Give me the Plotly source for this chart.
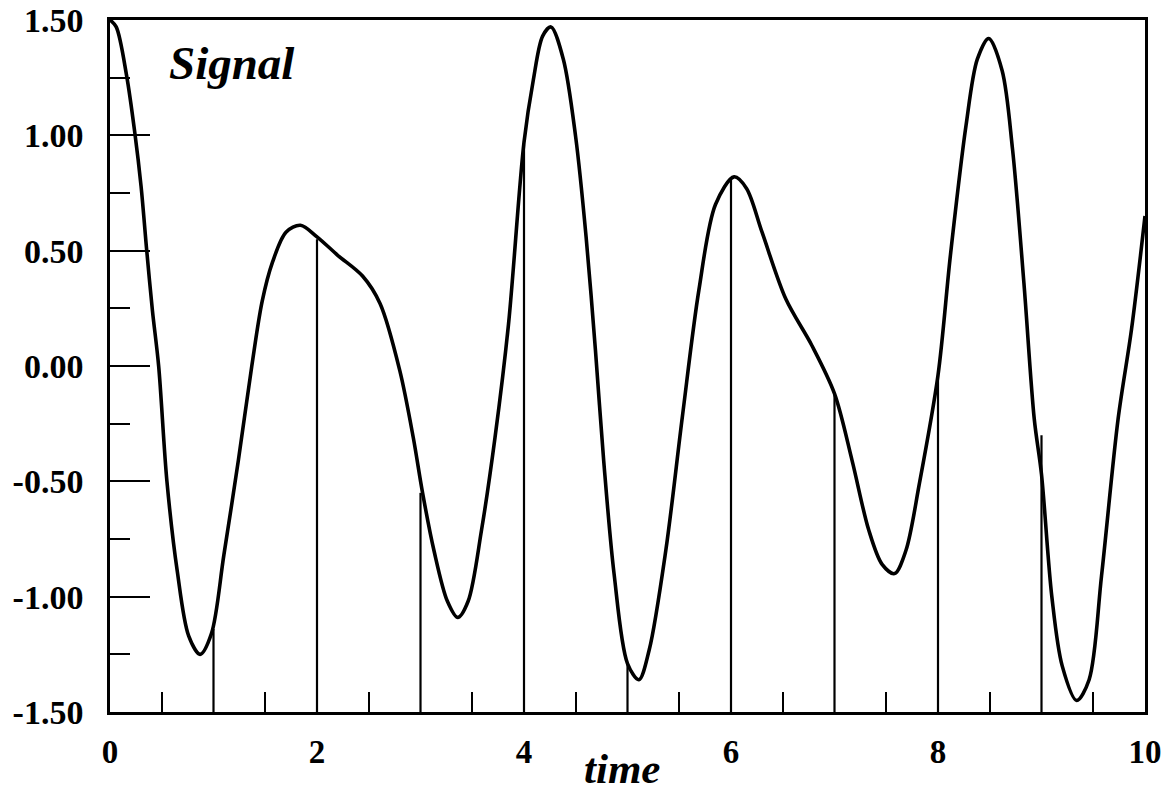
import plotly.graph_objects as go

# ---- data ----
curve_t = [0.00, 0.06, 0.16, 0.24, 0.30, 0.355, 0.41, 0.47, 0.55, 0.65, 0.76, 0.87, 0.98,
           1.10, 1.24, 1.37, 1.47, 1.57, 1.70, 1.84, 2.00, 2.20, 2.44, 2.61, 2.80, 2.93,
           3.02, 3.13, 3.26, 3.36, 3.46, 3.59, 3.72, 3.85, 4.00, 4.09, 4.18, 4.26, 4.38,
           4.50, 4.60, 4.69, 4.77, 4.87, 5.00, 5.11, 5.21, 5.37, 5.53, 5.69, 5.85, 6.03,
           6.15, 6.30, 6.53, 6.78, 7.00, 7.17, 7.33, 7.46, 7.58, 7.69, 7.82, 8.00, 8.12,
           8.27, 8.38, 8.49, 8.62, 8.72, 8.83, 8.93, 9.00, 9.10, 9.20, 9.34, 9.46, 9.58,
           9.74, 9.87, 10.00]
curve_v = [1.50, 1.47, 1.26, 1.01, 0.78, 0.50, 0.24, 0.00, -0.50, -0.89, -1.17, -1.25, -1.16,
           -0.82, -0.41, 0.00, 0.28, 0.45, 0.58, 0.61, 0.56, 0.48, 0.39, 0.27, -0.02, -0.31,
           -0.55, -0.80, -1.02, -1.09, -1.02, -0.71, -0.31, 0.18, 0.97, 1.24, 1.43, 1.47, 1.33,
           0.99, 0.56, 0.07, -0.41, -0.90, -1.29, -1.36, -1.23, -0.80, -0.22, 0.33, 0.70, 0.82,
           0.77, 0.58, 0.29, 0.09, -0.12, -0.41, -0.71, -0.86, -0.90, -0.80, -0.51, -0.04, 0.48,
           1.04, 1.33, 1.42, 1.28, 0.94, 0.36, -0.23, -0.47, -1.00, -1.30, -1.45, -1.36, -0.91,
           -0.23, 0.16, 0.65]

sample_t = [1, 2, 3, 4, 5, 6, 7, 8, 9]
sample_v = [-1.14, 0.55, -0.55, 0.96, -1.29, 0.81, -0.12, -0.04, -0.30]

y_tickvals = [-1.5, -1.0, -0.5, 0.0, 0.5, 1.0, 1.5]
y_ticktext = ["-1.50", "-1.00", "-0.50", "0.00", "0.50", "1.00", "1.50"]
y_minor = [-1.25, -0.75, -0.25, 0.25, 0.75, 1.25]
x_tickvals = [0, 2, 4, 6, 8, 10]
x_ticktext = ["0", "2", "4", "6", "8", "10"]
x_minor = [0.5, 1.5, 2.5, 3.5, 4.5, 5.5, 6.5, 7.5, 8.5, 9.5]

Y_MIN, Y_MAX = -1.5, 1.5
X_MIN, X_MAX = 0, 10

FONT = "Liberation Serif, Times New Roman, serif"

# stems built from samples
stem_x, stem_y = [], []
for t, v in zip(sample_t, sample_v):
    stem_x += [t, t, None]
    stem_y += [Y_MIN, v, None]

fig = go.Figure()
fig.add_trace(go.Scatter(x=stem_x, y=stem_y, mode="lines",
                         line=dict(color="black", width=2.2), hoverinfo="skip",
                         showlegend=False))
fig.add_trace(go.Scatter(x=curve_t, y=curve_v, mode="lines",
                         line=dict(color="black", width=3.6, shape="spline", smoothing=0.9),
                         showlegend=False))

fig.update_layout(
    width=1166, height=794,
    margin=dict(l=110, r=21, t=20, b=82),
    paper_bgcolor="white", plot_bgcolor="white",
    showlegend=False,
    xaxis=dict(range=[X_MIN, X_MAX], showgrid=False, zeroline=False, automargin=False,
               showline=True, linecolor="black", linewidth=2.5, mirror=True,
               ticks="inside", ticklen=40, tickwidth=2, tickcolor="black",
               tickvals=x_tickvals, ticktext=x_ticktext, ticklabeloverflow="allow",
               tickfont=dict(family=FONT, size=33, color="black", weight="bold"),
               ticklabelstandoff=9,
               minor=dict(ticks="inside", ticklen=20, tickwidth=2, tickcolor="black",
                          tickvals=x_minor, showgrid=False)),
    yaxis=dict(range=[Y_MIN, Y_MAX], showgrid=False, zeroline=False, automargin=False,
               showline=True, linecolor="black", linewidth=2.5, mirror=True,
               ticks="inside", ticklen=40, tickwidth=2, tickcolor="black",
               tickvals=y_tickvals, ticktext=y_ticktext, ticklabeloverflow="allow",
               tickfont=dict(family=FONT, size=34, color="black", weight="bold"),
               ticklabelstandoff=17,
               minor=dict(ticks="inside", ticklen=20, tickwidth=2, tickcolor="black",
                          tickvals=y_minor, showgrid=False)),
    annotations=[
        dict(text="<b><i>Signal</i></b>", x=0.55, y=0.938, xref="x", yref="paper",
             xanchor="left", yanchor="middle", showarrow=False,
             font=dict(family=FONT, size=47, color="black")),
        dict(text="<b><i>time</i></b>", x=4.95, y=-0.081, xref="x", yref="paper",
             xanchor="center", yanchor="middle", showarrow=False,
             font=dict(family=FONT, size=43, color="black")),
    ],
)

# remove the browser's default body margin so the figure fills the window exactly
fig.write_html("out.html",
               config={"displayModeBar": False},
               post_script="document.body.style.margin='0';document.body.style.overflow='hidden';")
